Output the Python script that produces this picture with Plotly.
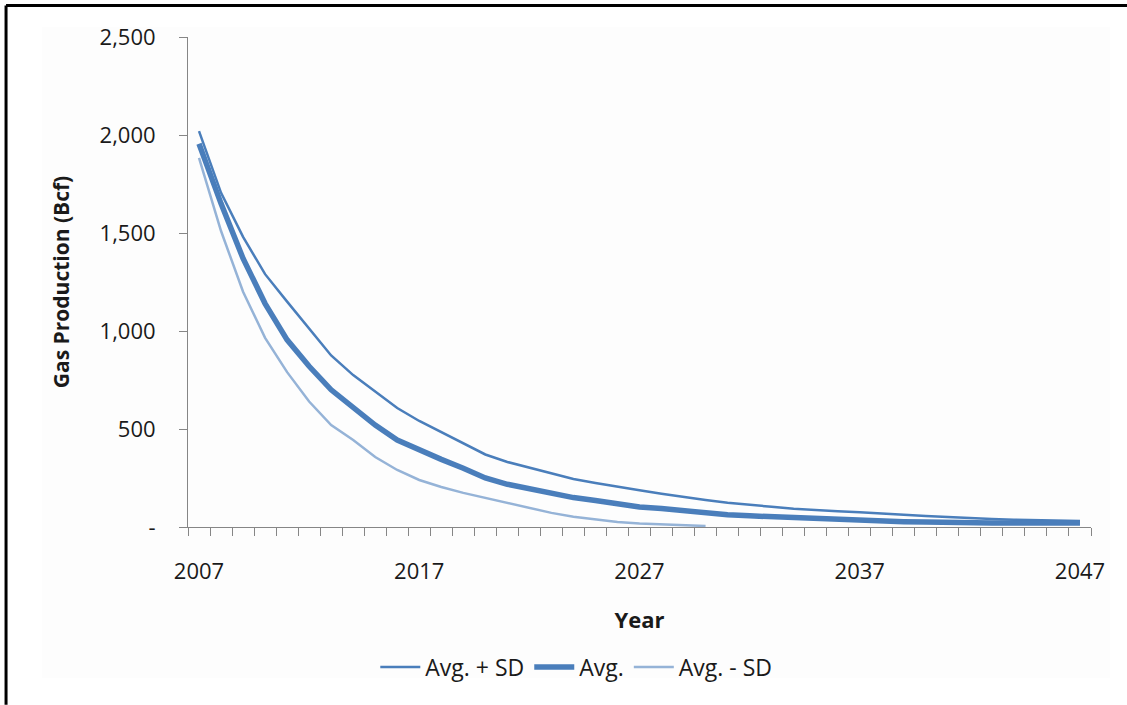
import plotly.graph_objects as go

# Annual gas production forecast (Bcf), 2007-2047
years = list(range(2007, 2048))

avg_plus_sd = [2020, 1705, 1480, 1290, 1150, 1010, 875, 775, 690, 607,
               541, 485, 429, 370, 332, 303, 272, 245, 225, 205,
               187, 170, 153, 138, 124, 112, 103, 93, 85, 80,
               75, 67, 62, 56, 50, 45, 41, 37, 34, 31, 30]

avg = [1955, 1650, 1370, 1140, 955, 820, 700, 612, 520, 444,
       393, 345, 300, 250, 218, 195, 175, 150, 135, 118,
       102, 94, 82, 72, 62, 57, 52, 46, 42, 38,
       35, 30, 27, 25, 22, 21, 20, 20, 20, 20, 20]

avg_minus_sd = [1883, 1510, 1200, 965, 790, 640, 520, 444, 357, 291,
                240, 204, 174, 148, 120, 95, 72, 52, 38, 26,
                18, 14, 10, 5] + [None] * 17

y_tick_vals = [0, 500, 1000, 1500, 2000, 2500]
y_tick_text = ["-", "500", "1,000", "1,500", "2,000", "2,500"]
x_tick_vals = [2007, 2017, 2027, 2037, 2047]

FONT = "Open Sans"
TEXT = "#1a1a1a"
AXIS_GREY = "#868686"

fig = go.Figure()
fig.add_trace(go.Scatter(x=years, y=avg_plus_sd, mode="lines", name="Avg. + SD",
                         line=dict(color="#4A7EBB", width=2.5)))
fig.add_trace(go.Scatter(x=years, y=avg, mode="lines", name="Avg.",
                         line=dict(color="#4A7EBB", width=5.5)))
fig.add_trace(go.Scatter(x=years, y=avg_minus_sd, mode="lines", name="Avg. - SD",
                         line=dict(color="#95B3D7", width=2.5)))

fig.update_layout(
    width=1127, height=705,
    margin=dict(l=188, r=36, t=37, b=178),
    paper_bgcolor="white", plot_bgcolor="rgba(0,0,0,0)",
    font=dict(family=FONT, size=22, color=TEXT),
    showlegend=True,
    legend=dict(orientation="h", x=0.43, xanchor="center", y=-0.286, yanchor="middle",
                font=dict(family=FONT, size=23, color=TEXT),
                bgcolor="rgba(0,0,0,0)", itemwidth=40, tracegroupgap=0),
    shapes=[
        # chart-area fill
        dict(type="rect", xref="paper", yref="paper", layer="below",
             x0=-0.1617, x1=1.021, y0=-0.308, y1=1.0204,
             fillcolor="#FDFDFD", line=dict(width=0)),
        # outer frame: left and top edges
        dict(type="line", xref="paper", yref="paper", layer="above",
             x0=-0.2015, x1=-0.2015, y0=-0.363, y1=1.0643,
             line=dict(color="black", width=3)),
        dict(type="line", xref="paper", yref="paper", layer="above",
             x0=-0.2015, x1=1.0399, y0=1.0643, y1=1.0643,
             line=dict(color="black", width=3)),
    ],
)

fig.update_xaxes(
    range=[2006.5, 2047.5], tickmode="array", tickvals=x_tick_vals,
    ticks="", ticklabelstandoff=25,
    tickfont=dict(family=FONT, size=22, color=TEXT),
    showline=True, linecolor=AXIS_GREY, linewidth=1, showgrid=False, zeroline=False,
    minor=dict(tick0=2006.5, dtick=1, ticks="outside", ticklen=8,
               tickcolor=AXIS_GREY, tickwidth=1, showgrid=False),
    title=dict(text="<b>Year</b>", standoff=28,
               font=dict(family=FONT, size=22, color=TEXT)),
)

fig.update_yaxes(
    range=[0, 2500], tickmode="array", tickvals=y_tick_vals, ticktext=y_tick_text,
    ticks="outside", ticklen=8, tickcolor=AXIS_GREY, tickwidth=1, ticklabelstandoff=19,
    tickfont=dict(family=FONT, size=22, color=TEXT),
    showline=True, linecolor=AXIS_GREY, linewidth=1, showgrid=False, zeroline=False,
    title=dict(text="<b>Gas Production (Bcf)</b>", standoff=24,
               font=dict(family=FONT, size=21, color=TEXT)),
)

fig.write_html("out.html")
